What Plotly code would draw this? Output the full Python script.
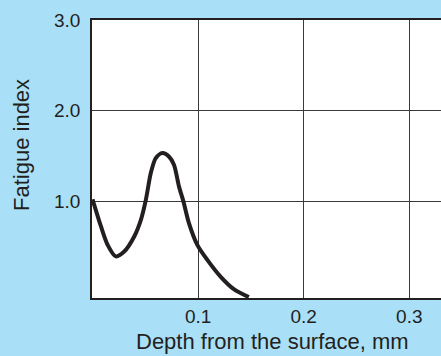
import plotly.graph_objects as go

depth_mm = [0.0, 0.008, 0.0143, 0.022, 0.030, 0.0395, 0.0458, 0.0505, 0.0552, 0.0599,
            0.0662, 0.0725, 0.0772, 0.0819, 0.086, 0.0913, 0.0992, 0.1087, 0.1212, 0.1338, 0.148]
fatigue_index = [1.02, 0.72, 0.517, 0.39, 0.443, 0.609, 0.793, 1.014, 1.31, 1.475,
                 1.53, 1.49, 1.40, 1.16, 1.0, 0.757, 0.517, 0.351, 0.167, 0.028, -0.06]
x_ticks = [0.1, 0.2, 0.3]
x_tick_labels = ["0.1", "0.2", "0.3"]
y_ticks = [1.0, 2.0, 3.0]
y_tick_labels = ["1.0", "2.0", "3.0"]
x_title = "Depth from the surface, mm"
y_title = "Fatigue index"

ink = "#231f20"
bg = "#aadff8"
font = "Liberation Sans, Arial, sans-serif"

fig = go.Figure()
fig.add_trace(go.Scatter(x=depth_mm, y=fatigue_index, mode="lines",
                         line=dict(color=ink, width=4, shape="spline", smoothing=0.8),
                         hoverinfo="skip", showlegend=False))

fig.update_layout(
    width=441, height=356,
    margin=dict(l=92, r=0, t=20, b=58),
    paper_bgcolor=bg, plot_bgcolor="white",
    font=dict(family=font, color=ink, size=19),
    xaxis=dict(range=[-0.0005, 0.33], tickvals=x_ticks, ticktext=x_tick_labels,
               showgrid=True, gridcolor="#3a3a3a", gridwidth=1, zeroline=False,
               showline=True, linecolor=ink, linewidth=1.5, mirror=True,
               ticks="", ticklabelstandoff=0,
               tickfont=dict(size=19, color=ink)),
    yaxis=dict(range=[-0.07, 3.0], tickvals=y_ticks, ticktext=y_tick_labels,
               showgrid=True, gridcolor="#3a3a3a", gridwidth=1, zeroline=False,
               showline=True, linecolor=ink, linewidth=1.5, mirror=False,
               ticks="outside", ticklen=6, tickcolor="rgba(0,0,0,0)",
               tickfont=dict(size=19, color=ink)),
    annotations=[
        dict(text=x_title, xref="paper", yref="paper", x=0.5158, y=0, yshift=-43,
             xanchor="center", yanchor="middle", showarrow=False,
             font=dict(size=22, color=ink, family=font)),
        dict(text=y_title, xref="paper", yref="paper", x=0, xshift=-70, y=0.5504,
             xanchor="center", yanchor="middle", showarrow=False, textangle=-90,
             font=dict(size=22, color=ink, family=font)),
    ],
)

fig.write_html("out.html")
